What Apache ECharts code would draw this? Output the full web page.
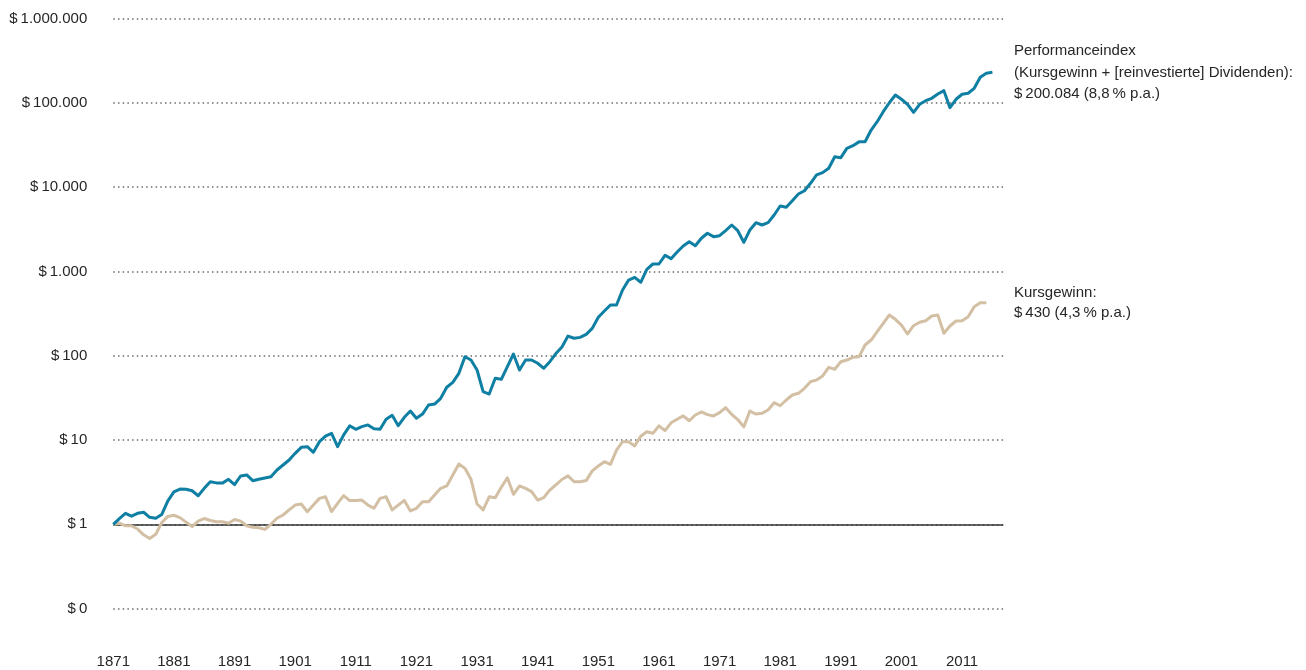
<!DOCTYPE html>
<html>
<head>
<meta charset="utf-8">
<script src="https://cdn.jsdelivr.net/npm/echarts@6/dist/echarts.min.js"></script>
<style>
html,body{margin:0;padding:0;background:#ffffff;}
#chart{width:1306px;height:670px;}
</style>
</head>
<body>
<div id="chart"></div>
<script>
// ---- data ----
const firstYear = 1871;

// Performanceindex (Kursgewinn + reinvestierte Dividenden), 1871 .. 2016
const performanceValues = [
  1.0, 1.17, 1.35, 1.25, 1.35, 1.39, 1.21, 1.18, 1.31, 1.9,
  2.42, 2.62, 2.6, 2.5, 2.18, 2.67, 3.2, 3.1, 3.08, 3.42,
  2.95, 3.74, 3.85, 3.29, 3.42, 3.54, 3.67, 4.41, 5.05, 5.79,
  6.95, 8.19, 8.33, 7.15, 9.55, 11.1, 12.0, 8.33, 11.5, 14.7,
  13.4, 14.4, 15.1, 13.6, 13.4, 17.6, 19.6, 14.8, 18.6, 22.1,
  18.1, 20.3, 26.0, 26.7, 31.2, 42.2, 48.3, 61.8, 97.3, 88.9,
  67.7, 37.4, 35.1, 54.0, 52.5, 74.1, 104.7, 67.7, 88.9, 88.9,
  81.3, 70.9, 84.9, 106, 127, 171, 161, 165, 179, 211,
  286, 339, 399, 399, 601, 790, 851, 743, 1059, 1224,
  1224, 1553, 1416, 1699, 2000, 2250, 2018, 2471, 2833, 2583,
  2653, 3040, 3550, 3040, 2214, 3097, 3784, 3550, 3784, 4670,
  5970, 5757, 6900, 8280, 9060, 11090, 13930, 14840, 16710, 22950,
  22350, 28850, 30970, 34400, 34500, 47560, 59700, 78400, 100200, 123800,
  110100, 96000, 77100, 96000, 105900, 113000, 127100, 139300, 87500, 110100,
  126200, 129700, 148600, 200600, 223600, 230000
];

// Kursgewinn (price index only), 1871 .. 2015
const priceValues = [
  1.0, 1.03, 0.96, 0.96, 0.88, 0.75, 0.68, 0.76, 1.05, 1.24,
  1.28, 1.2, 1.06, 0.94, 1.09, 1.17, 1.11, 1.07, 1.07, 1.03,
  1.14, 1.09, 0.96, 0.92, 0.91, 0.87, 1.0, 1.18, 1.29, 1.48,
  1.69, 1.74, 1.41, 1.69, 2.03, 2.12, 1.41, 1.77, 2.19, 1.91,
  1.92, 1.94, 1.69, 1.55, 2.03, 2.12, 1.48, 1.69, 1.92, 1.44,
  1.55, 1.85, 1.85, 2.23, 2.67, 2.85, 3.84, 5.19, 4.61, 3.42,
  1.74, 1.48, 2.12, 2.07, 2.75, 3.57, 2.27, 2.85, 2.67, 2.44,
  1.94, 2.07, 2.55, 2.93, 3.4, 3.75, 3.2, 3.2, 3.3, 4.3,
  4.92, 5.53, 5.15, 7.6, 9.55, 9.55, 8.49, 11.1, 12.5, 12.0,
  14.7, 12.9, 16.0, 17.6, 19.3, 16.9, 19.8, 21.5, 20.0, 19.3,
  21.1, 24.2, 20.2, 17.5, 14.3, 22.1, 20.3, 20.7, 22.7, 27.7,
  25.5, 29.8, 34.2, 35.8, 41.0, 49.2, 51.5, 57.5, 72.8, 69.0,
  84.9, 88.9, 95.7, 97, 134, 153.5, 192.7, 242, 304, 270,
  231, 181, 227, 249, 260, 296, 304, 184.5, 225, 258,
  260, 290, 381, 425, 425
];

const xTickYears = [1871, 1881, 1891, 1901, 1911, 1921, 1931, 1941, 1951, 1961, 1971, 1981, 1991, 2001, 2011];
const baselineValue = 1;

const performanceLabel = ['Performanceindex', '(Kursgewinn + [reinvestierte] Dividenden):', '$\u2009200.084 (8,8\u2009% p.a.)'];
const priceLabel = ['Kursgewinn:', '$\u2009430 (4,3\u2009% p.a.)'];

// ---- chart ----
const perfSeries = performanceValues.map((v, i) => [firstYear + i, v]);
const priceSeries = priceValues.map((v, i) => [firstYear + i, v]);

const FONT = '"Liberation Sans", Arial, Helvetica, sans-serif';
const TEXT_COLOR = '#262626';

function fmtDollar(v) {
  if (v < 1) return '$\u20090';
  const n = Math.round(v);
  return '$\u2009' + String(n).replace(/\B(?=(\d{3})+(?!\d))/g, '.');
}

const chart = echarts.init(document.getElementById('chart'), null, {renderer: 'canvas'});
chart.setOption({
  animation: false,
  backgroundColor: '#ffffff',
  grid: {left: 113.3, right: 302.7, top: 18.5, bottom: 61.4, containLabel: false},
  xAxis: {
    type: 'value',
    min: 1871,
    max: 2017.8,
    axisLine: {show: false},
    axisTick: {show: false},
    splitLine: {show: false},
    axisLabel: {
      customValues: xTickYears,
      margin: 46,
      color: TEXT_COLOR,
      fontFamily: FONT,
      fontSize: 15,
      formatter: v => String(Math.round(v))
    }
  },
  yAxis: {
    type: 'log',
    logBase: 10,
    min: 0.1,
    max: 1000000,
    splitNumber: 7,
    axisLine: {show: false},
    axisTick: {show: false},
    axisLabel: {
      margin: 26,
      color: TEXT_COLOR,
      fontFamily: FONT,
      fontSize: 15,
      formatter: fmtDollar
    },
    splitLine: {
      show: true,
      lineStyle: {color: '#6b6b6b', width: 1.5, type: [1.5, 3.2]}
    }
  },
  graphic: [
    {
      type: 'text', left: 1014, top: 40.5,
      style: {
        text: performanceLabel.join('\n'),
        font: '15px ' + FONT,
        fill: TEXT_COLOR, lineHeight: 21.3
      }
    },
    {
      type: 'text', left: 1014, top: 282.5,
      style: {
        text: priceLabel.join('\n'),
        font: '15px ' + FONT,
        fill: TEXT_COLOR, lineHeight: 20.5
      }
    }
  ],
  series: [
    {
      name: 'Kursgewinn',
      type: 'line',
      data: priceSeries,
      symbol: 'none',
      lineStyle: {color: '#d3bfa3', width: 3, join: 'round'},
      z: 3,
      markLine: {
        silent: true,
        symbol: 'none',
        label: {show: false},
        lineStyle: {color: '#333333', width: 1.6, type: 'solid'},
        data: [{yAxis: baselineValue}],
        z: 1
      }
    },
    {
      name: 'Performanceindex',
      type: 'line',
      data: perfSeries,
      symbol: 'none',
      lineStyle: {color: '#0f7fa3', width: 3, join: 'round'},
      z: 4
    }
  ]
});
</script>
</body>
</html>
